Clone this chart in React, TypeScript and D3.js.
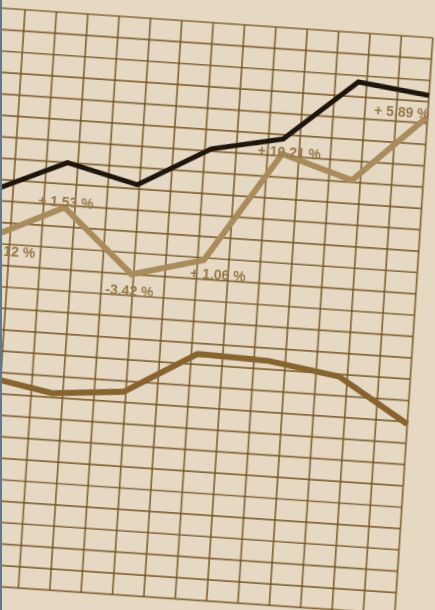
import React from "react";
import * as d3 from "d3";

// Seven reporting periods, three series drawn on tilted graph paper.
const periods = ["T0", "T1", "T2", "T3", "T4", "T5", "T6"];
const leaderSeries = [185, 200, 192, 211, 218, 247, 243];
const growthSeries = [163, 179, 150, 159, 211, 201, 233];
const baseSeries = [98, 92, 95, 115, 114, 109, 89];
const growthLabels = ["+ 0.12 %", "+ 1.53 %", "-3.42 %", "+ 1.06 %", "+ 10.21 %", "", "+ 5.89 %"];

const W = 435;
const H = 610;

// graph paper cell size (in paper units) and extent
const CELL_W = 31.5;
const CELL_H = 21.44;
const COL_MIN = -2;
const COL_MAX = 13;
const ROWS = 27;

// label placement relative to each point: [dx, dy, anchor]
const labelPlacement: [number, number, string][] = [
  [45, 18, "end"],
  [1, -1, "middle"],
  [-1, 21, "middle"],
  [15, 19, "middle"],
  [7, 2.5, "middle"],
  [0, 0, "middle"],
  [-26, 2, "middle"],
];

export default function App() {
  const x = d3
    .scaleLinear()
    .domain([0, periods.length - 1])
    .range([-0.6 * CELL_W, COL_MAX * CELL_W]);
  const y = d3.scaleLinear().domain([0, 270]).range([ROWS * CELL_H, 0]);

  const line = d3
    .line<number>()
    .x((_, i) => x(i))
    .y((d) => y(d));

  const cols = d3.range(COL_MIN, COL_MAX + 1);
  const rows = d3.range(0, ROWS + 1);

  const gridColor = "#76541f";
  const paperTransform = "matrix(0.9956,0.0686,-0.0657,0.9953,25.06,9.73)";

  return (
    <svg
      width={W}
      height={H}
      style={{ position: "absolute", left: 0, top: 0, display: "block" }}
      fontFamily="'Liberation Sans', Arial, sans-serif"
    >
      <defs>
        <filter id="soft" x="-5%" y="-5%" width="110%" height="110%">
          <feGaussianBlur stdDeviation={0.45} />
        </filter>
      </defs>
      <rect x={0} y={0} width={W} height={H} fill="#e5d9c4" />
      <g transform={paperTransform} filter="url(#soft)">
        <g stroke={gridColor} strokeWidth={1.7} strokeOpacity={0.85}>
          {rows.map((r) => (
            <line
              key={"h" + r}
              x1={COL_MIN * CELL_W}
              x2={COL_MAX * CELL_W}
              y1={r * CELL_H}
              y2={r * CELL_H}
            />
          ))}
          {cols.map((c) => (
            <line
              key={"v" + c}
              x1={c * CELL_W}
              x2={c * CELL_W}
              y1={0}
              y2={ROWS * CELL_H}
            />
          ))}
        </g>
        <path
          d={line(baseSeries) || ""}
          fill="none"
          stroke="#87642d"
          strokeWidth={6}
          strokeLinejoin="miter"
        />
        <path
          d={line(growthSeries) || ""}
          fill="none"
          stroke="#a98b5b"
          strokeWidth={6}
          strokeLinejoin="miter"
        />
        <g fill="#96784a" fontSize={14} fontWeight="bold">
          {growthLabels.map((t, i) =>
            t ? (
              <text
                key={"l" + i}
                x={x(i) + labelPlacement[i][0]}
                y={y(growthSeries[i]) + labelPlacement[i][1]}
                textAnchor={labelPlacement[i][2] as any}
              >
                {t}
              </text>
            ) : null
          )}
        </g>
        <path
          d={line(leaderSeries) || ""}
          fill="none"
          stroke="#1f140a"
          strokeWidth={5}
          strokeLinejoin="miter"
        />
      </g>
      <rect x={0} y={0} width={2} height={H} fill="#62798a" />
    </svg>
  );
}
